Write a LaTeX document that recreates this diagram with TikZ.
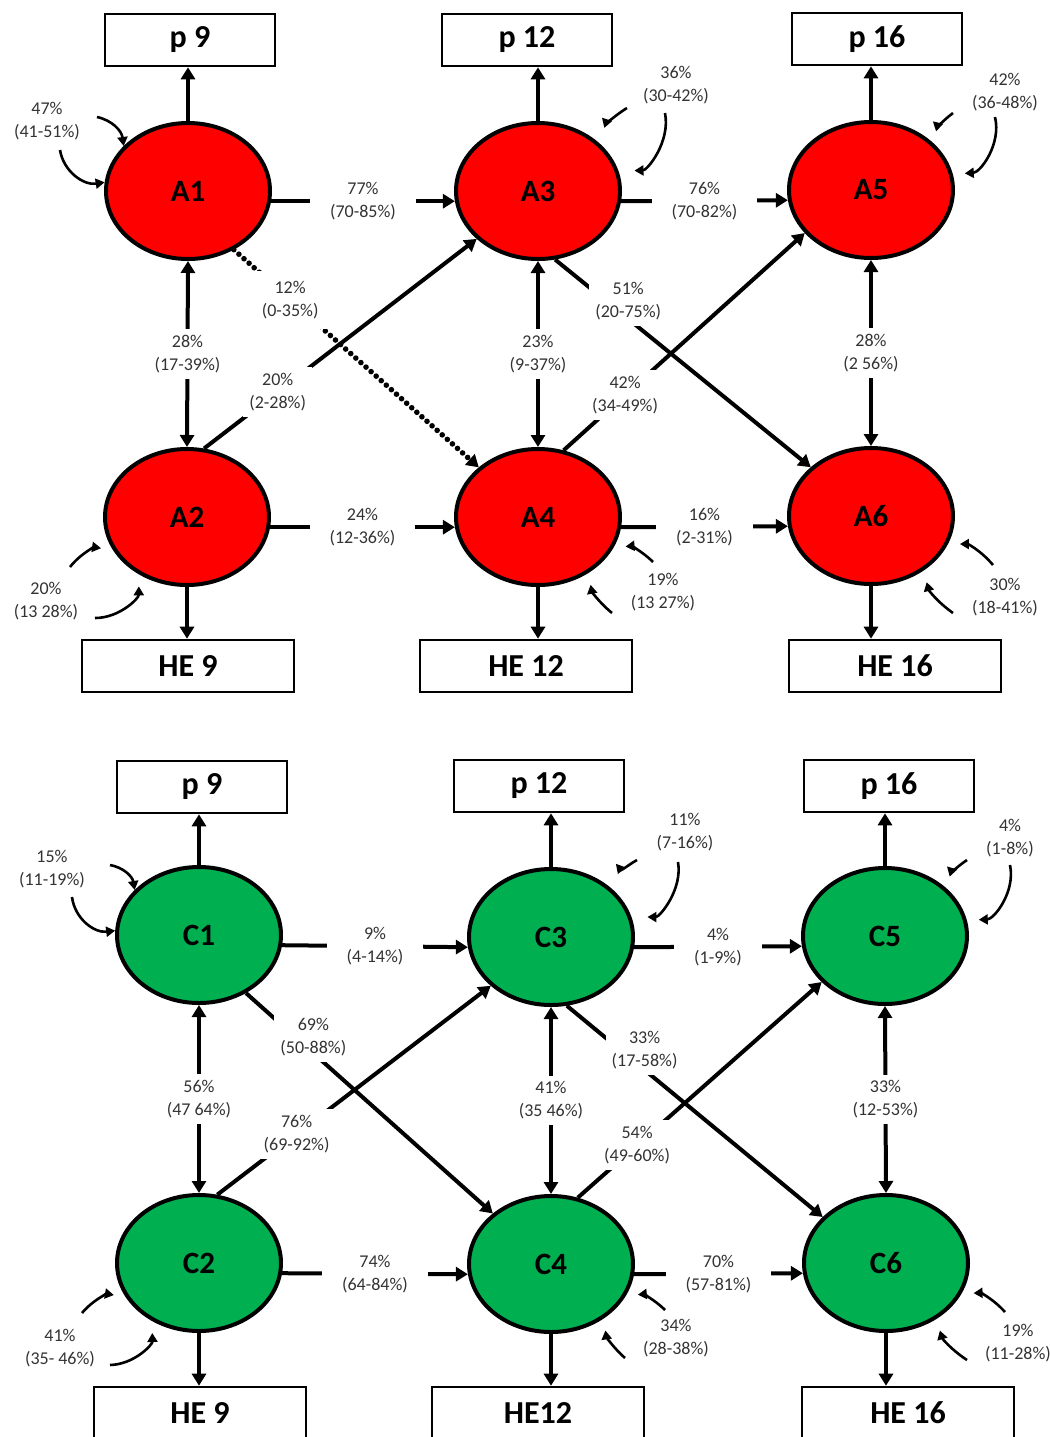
\documentclass[tikz,border=0pt]{standalone}
\usepackage{fontspec}
\setmainfont{Carlito}
\usetikzlibrary{shapes.geometric,arrows.meta}
\definecolor{ballred}{RGB}{255,0,0}
\definecolor{ballgreen}{RGB}{0,176,80}

\begin{document}
\begin{tikzpicture}
   [x=0.5pt, y=-0.5pt,
   >={Triangle[length=6pt,width=7pt]},
   redball/.style={ellipse, draw=black, fill=ballred, line width=2pt, minimum width=82pt, minimum height=68pt, font=\fontsize{15.5}{16}\selectfont\bfseries},
   greenball/.style={redball, fill=ballgreen},
   pbox/.style={rectangle, draw=black, fill=white, line width=1.3pt, minimum width=85pt, minimum height=26pt, font=\fontsize{16}{17}\selectfont\bfseries},
   hebox/.style={pbox, minimum width=106pt},
   pct/.style={fill=white, text=black!80, align=center, inner sep=3pt, font=\fontsize{9}{11.5}\selectfont},
   hpct/.style={pct, inner xsep=10pt},
   link/.style={line width=2pt, ->},
   both/.style={line width=2pt, <->},
   dotlink/.style={line width=2.8pt, line cap=round, dash pattern=on 0pt off 3.4pt, ->},
   resid/.style={line width=1.3pt, -{Triangle[length=4.5pt,width=5pt]}, shorten >=6pt},
   ]
 \useasboundingbox (0,0) rectangle (1050,1437);
 % upper model
 \node at (190,40) [pbox] (p9a) {p 9};
 \node at (527,40) [pbox] (p12a) {p 12};
 \node at (877,39) [pbox] (p16a) {p 16};
 \node at (188,191) [redball] (A1) {A1};
 \node at (538,191) [redball] (A3) {A3};
 \node at (871,190) [redball] (A5) {A5};
 \node at (187,517) [redball] (A2) {A2};
 \node at (538,517) [redball] (A4) {A4};
 \node at (871,516) [redball] (A6) {A6};
 \node at (188,666) [hebox] (he9a) {HE 9};
 \node at (526,666) [hebox] (he12a) {HE 12};
 \node at (895,666) [hebox] (he16a) {HE 16};

 \node at (47,121) [pct] (rA1) {47\%\\(41-51\%)};
 \node at (676,85) [pct] (rA3) {36\%\\(30-42\%)};
 \node at (1005,92) [pct] (rA5) {42\%\\(36-48\%)};
 \node at (46,601) [pct] (rA2) {20\%\\(13 28\%)};
 \node at (663,592) [pct] (rA4) {19\%\\(13 27\%)};
 \node at (1005,597) [pct] (rA6) {30\%\\(18-41\%)};

 \draw[link] (A1.north) -- (A1.north |- p9a.south);
 \draw[link] (A3.north) -- (A3.north |- p12a.south);
 \draw[link] (A5.north) -- (A5.north |- p16a.south);
 \draw[link] (A2.south) -- (A2.south |- he9a.north);
 \draw[link] (A4.south) -- (A4.south |- he12a.north);
 \draw[link] (A6.south) -- (A6.south |- he16a.north);

 \draw[both] (A1.south) -- node[pct] {28\%\\(17-39\%)} (A2.north);
 \draw[both] (A3.south) -- node[pct] {23\%\\(9-37\%)} (A4.north);
 \draw[both] (A5.south) -- node[pct] {28\%\\(2 56\%)} (A6.north);
 \draw[link] (A1.353) -- node[hpct] {77\%\\(70-85\%)} (A3.187);
 \draw[link] (A3.353) -- node[hpct] {76\%\\(70-82\%)} (A5.187);
 \draw[link] (A2.353) -- node[hpct] {24\%\\(12-36\%)} (A4.187);
 \draw[link] (A4.353) -- node[hpct] {16\%\\(2-31\%)} (A6.187);
 \draw[link] (A2.76) -- node[pct, pos=.27] {20\%\\(2-28\%)} (A3.218);
 \draw[dotlink] (A1.308) -- node[pct, pos=.23, inner sep=5pt] {12\%\\(0-35\%)} (A4.140);
 \draw[link] (A3.284) -- node[pct, pos=.2, xshift=11pt] {51\%\\(20-75\%)} (A6.141);
 \draw[link] (A4.69) -- node[pct, pos=.255] {42\%\\(34-49\%)} (A5.213);

 \coordinate (a1s) at (97,117); \coordinate (a1t) at (60,150);
 \coordinate (a3s) at (627,108); \coordinate (a3t) at (665,113);
 \coordinate (a5s) at (953,113); \coordinate (a5t) at (995,117);
 \coordinate (a2s) at (70,567); \coordinate (a2t) at (95,618);
 \coordinate (a4s) at (653,562); \coordinate (a4t) at (612,613);
 \coordinate (a6s) at (993,565); \coordinate (a6t) at (953,613);
 \draw[resid, shorten >=0pt] (a1s) to[bend left=35] (A1.145);
 \draw[resid, shorten >=0pt] (a1t) to[bend right=45] (A1.174);
 \draw[resid, shorten >=8pt] (a3s) to[bend right=20] (A3.38);
 \draw[resid, shorten >=8pt] (a3t) to[bend left=50] (A3.14);
 \draw[resid] (a5s) to[bend right=20] (A5.37);
 \draw[resid] (a5t) to[bend left=50] (A5.11);
 \draw[resid] (a2s) to[bend left=30] (A2.204);
 \draw[resid] (a2t) to[bend right=45] (A2.230);
 \draw[resid] (a4s) to[bend right=25] (A4.338);
 \draw[resid] (a4t) to[bend left=20] (A4.312);
 \draw[resid] (a6s) to[bend right=25] (A6.340);
 \draw[resid] (a6t) to[bend left=20] (A6.314);

 % lower model
 \node at (202,787) [pbox] (p9b) {p 9};
 \node at (539,786) [pbox] (p12b) {p 12};
 \node at (889,786) [pbox] (p16b) {p 16};
 \node at (199,935) [greenball] (C1) {C1};
 \node at (551,937) [greenball] (C3) {C3};
 \node at (885,936) [greenball] (C5) {C5};
 \node at (199,1263) [greenball] (C2) {C2};
 \node at (551,1264) [greenball] (C4) {C4};
 \node at (886,1263) [greenball] (C6) {C6};
 \node at (200,1413) [hebox] (he9b) {HE 9};
 \node at (538,1413) [hebox] (he12b) {HE12};
 \node at (908,1413) [hebox] (he16b) {HE 16};

 \node at (52,869) [pct] (rC1) {15\%\\(11-19\%)};
 \node at (685,832) [pct] (rC3) {11\%\\(7-16\%)};
 \node at (1010,838) [pct] (rC5) {4\%\\(1-8\%)};
 \node at (60,1348) [pct] (rC2) {41\%\\(35- 46\%)};
 \node at (676,1338) [pct] (rC4) {34\%\\(28-38\%)};
 \node at (1018,1343) [pct] (rC6) {19\%\\(11-28\%)};

 \draw[link] (C1.north) -- (C1.north |- p9b.south);
 \draw[link] (C3.north) -- (C3.north |- p12b.south);
 \draw[link] (C5.north) -- (C5.north |- p16b.south);
 \draw[link] (C2.south) -- (C2.south |- he9b.north);
 \draw[link] (C4.south) -- (C4.south |- he12b.north);
 \draw[link] (C6.south) -- (C6.south |- he16b.north);

 \draw[both] (C1.south) -- node[pct] {56\%\\(47 64\%)} (C2.north);
 \draw[both] (C3.south) -- node[pct] {41\%\\(35 46\%)} (C4.north);
 \draw[both] (C5.south) -- node[pct] {33\%\\(12-53\%)} (C6.north);
 \draw[link] (C1.353) -- node[hpct] {9\%\\(4-14\%)} (C3.187);
 \draw[link] (C3.353) -- node[hpct] {4\%\\(1-9\%)} (C5.187);
 \draw[link] (C2.353) -- node[hpct] {74\%\\(64-84\%)} (C4.187);
 \draw[link] (C4.353) -- node[hpct] {70\%\\(57-81\%)} (C6.187);
 \draw[link] (C1.309) -- node[pct, pos=.2, xshift=9pt] {69\%\\(50-88\%)} (C4.139);
 \draw[link] (C2.75) -- node[pct, pos=.29] {76\%\\(69-92\%)} (C3.219);
 \draw[link] (C3.283) -- node[pct, pos=.21, xshift=12pt] {33\%\\(17-58\%)} (C6.144);
 \draw[link] (C4.68) -- node[pct, pos=.243] {54\%\\(49-60\%)} (C5.216);

 \coordinate (c1s) at (110,865); \coordinate (c1t) at (72,897);
 \coordinate (c3s) at (637,860); \coordinate (c3t) at (678,862);
 \coordinate (c5s) at (967,860); \coordinate (c5t) at (1010,865);
 \coordinate (c2s) at (82,1313); \coordinate (c2t) at (110,1365);
 \coordinate (c4s) at (665,1310); \coordinate (c4t) at (625,1358);
 \coordinate (c6s) at (1005,1312); \coordinate (c6t) at (967,1360);
 \draw[resid, shorten >=0pt] (c1s) to[bend left=35] (C1.145);
 \draw[resid, shorten >=0pt] (c1t) to[bend right=45] (C1.177);
 \draw[resid, shorten >=8pt] (c3s) to[bend right=20] (C3.38);
 \draw[resid, shorten >=8pt] (c3t) to[bend left=50] (C3.14);
 \draw[resid] (c5s) to[bend right=20] (C5.38);
 \draw[resid] (c5t) to[bend left=50] (C5.11);
 \draw[resid] (c2s) to[bend left=30] (C2.205);
 \draw[resid] (c2t) to[bend right=45] (C2.231);
 \draw[resid] (c4s) to[bend right=25] (C4.337);
 \draw[resid] (c4t) to[bend left=20] (C4.314);
 \draw[resid] (c6s) to[bend right=25] (C6.338);
 \draw[resid] (c6t) to[bend left=20] (C6.312);
\end{tikzpicture}
\end{document}
